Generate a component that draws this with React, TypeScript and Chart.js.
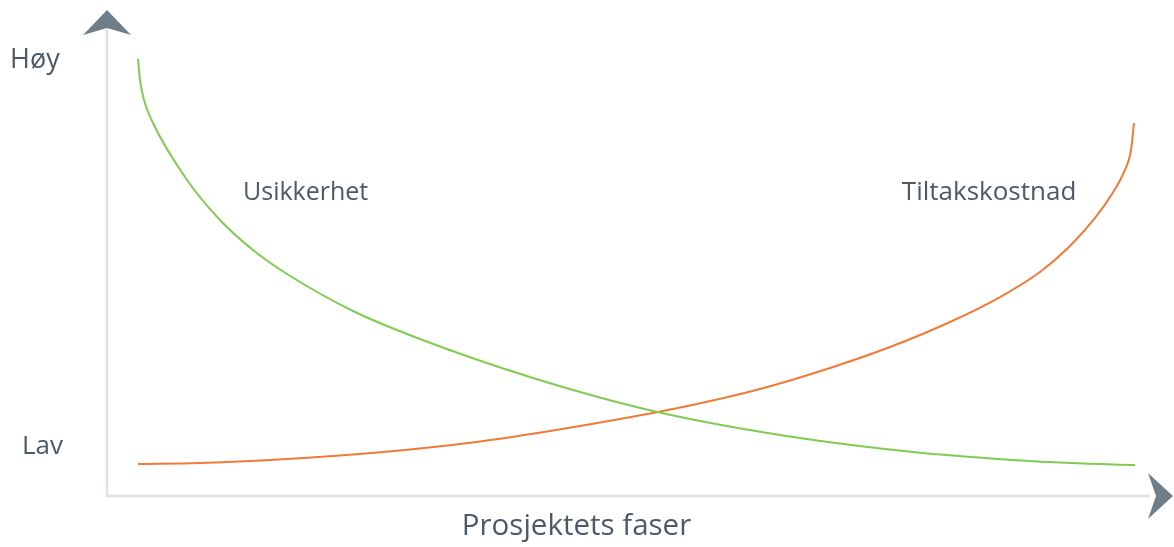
import React, { useEffect, useRef } from "react";
import { Chart, registerables } from "chart.js";

Chart.register(...registerables);

// Phase position (0–100) and level (0–100)
const usikkerhetX = [3.16, 3.35, 3.73, 4.59, 7.85, 11.0, 14.16, 17.42, 23.73, 30.14, 40.96, 52.44, 64.59, 77.32, 86.89, 92.34, 98.56];
const usikkerhetY = [93.78, 89.27, 85.0, 80.04, 67.81, 59.23, 52.79, 47.64, 39.7, 33.69, 25.32, 18.24, 13.09, 9.44, 7.73, 7.08, 6.65];

const tiltakX = [3.16, 9.09, 15.79, 22.49, 29.19, 35.89, 42.58, 49.28, 55.98, 62.68, 69.38, 75.12, 80.86, 85.65, 89.47, 92.34, 94.74, 96.36, 97.51, 98.18, 98.47];
const tiltakY = [6.87, 7.08, 7.73, 8.69, 9.98, 11.7, 13.95, 16.52, 19.42, 22.96, 27.47, 31.97, 37.34, 42.7, 48.07, 53.65, 59.66, 64.81, 69.53, 74.25, 80.04];

const seriesNames = ["Usikkerhet", "Tiltakskostnad"];
const levelLabels = ["Høy", "Lav"];
const levelValues = [93.6, 10.5];
const xTitle = "Prosjektets faser";
const seriesLabelPos = [
  [19.2, 65.0],
  [84.6, 65.2],
];

const FONT = "'Open Sans', 'DejaVu Sans', sans-serif";
const TEXT = "#4d5a66";
const AXIS = "#dde1e6";
const ARROW = "#6f7e89";

const decor = {
  id: "decor",
  beforeDatasetsDraw(chart: any) {
    const { ctx, chartArea } = chart;
    const { left, right, top, bottom } = chartArea;
    ctx.save();
    ctx.strokeStyle = AXIS;
    ctx.lineWidth = 2.5;
    ctx.beginPath();
    ctx.moveTo(left + 2, top - 4);
    ctx.lineTo(left + 2, bottom);
    ctx.lineTo(right, bottom);
    ctx.stroke();
    ctx.fillStyle = ARROW;
    ctx.beginPath();
    ctx.moveTo(left + 2, top - 20);
    ctx.lineTo(left + 26, top + 5);
    ctx.lineTo(left + 2, top - 2);
    ctx.lineTo(left - 22, top + 5);
    ctx.closePath();
    ctx.fill();
    ctx.beginPath();
    ctx.moveTo(right + 23, bottom);
    ctx.lineTo(right - 2, bottom - 23);
    ctx.lineTo(right + 6, bottom);
    ctx.lineTo(right - 2, bottom + 23);
    ctx.closePath();
    ctx.fill();
    ctx.restore();
  },
  afterDatasetsDraw(chart: any) {
    const { ctx, chartArea, scales } = chart;
    const xs = scales.x;
    const ys = scales.y;
    ctx.save();
    ctx.fillStyle = TEXT;
    ctx.textBaseline = "middle";
    ctx.font = `500 27px ${FONT}`;
    ctx.textAlign = "left";
    ctx.fillText(levelLabels[0], 10, ys.getPixelForValue(levelValues[0]));
    ctx.font = `500 26px ${FONT}`;
    ctx.fillText(levelLabels[1], 22, ys.getPixelForValue(levelValues[1]));
    ctx.textAlign = "center";
    ctx.font = `500 25px ${FONT}`;
    ctx.fillText(seriesNames[0], xs.getPixelForValue(seriesLabelPos[0][0]), ys.getPixelForValue(seriesLabelPos[0][1]));
    ctx.font = `500 26px ${FONT}`;
    ctx.fillText(seriesNames[1], xs.getPixelForValue(seriesLabelPos[1][0]), ys.getPixelForValue(seriesLabelPos[1][1]));
    ctx.font = `500 29.5px ${FONT}`;
    ctx.fillText(xTitle, (chartArea.left + chartArea.right) / 2 - 51, chartArea.bottom + 31);
    ctx.restore();
  },
};

export default function App() {
  const ref = useRef<HTMLCanvasElement>(null);
  useEffect(() => {
    document.body.style.margin = "0";
    const chart = new Chart(ref.current!, {
      type: "line",
      data: {
        datasets: [
          {
            label: seriesNames[0],
            data: usikkerhetX.map((x, i) => ({ x, y: usikkerhetY[i] })),
            borderColor: "#80cb52",
            borderWidth: 2,
            pointRadius: 0,
            cubicInterpolationMode: "monotone",
          },
          {
            label: seriesNames[1],
            data: tiltakX.map((x, i) => ({ x, y: tiltakY[i] })),
            borderColor: "#ef7a3a",
            borderWidth: 2,
            pointRadius: 0,
            cubicInterpolationMode: "monotone",
          },
        ],
      },
      options: {
        animation: false,
        responsive: false,
        layout: { padding: { left: 105, right: 24, top: 30, bottom: 51 } },
        scales: {
          x: { type: "linear", min: 0, max: 100, display: false },
          y: { type: "linear", min: 0, max: 100, display: false },
        },
        plugins: { legend: { display: false }, tooltip: { enabled: false } },
      },
      plugins: [decor],
    });
    return () => chart.destroy();
  }, []);
  return <canvas ref={ref} width={1174} height={547} style={{ display: "block" }} />;
}
